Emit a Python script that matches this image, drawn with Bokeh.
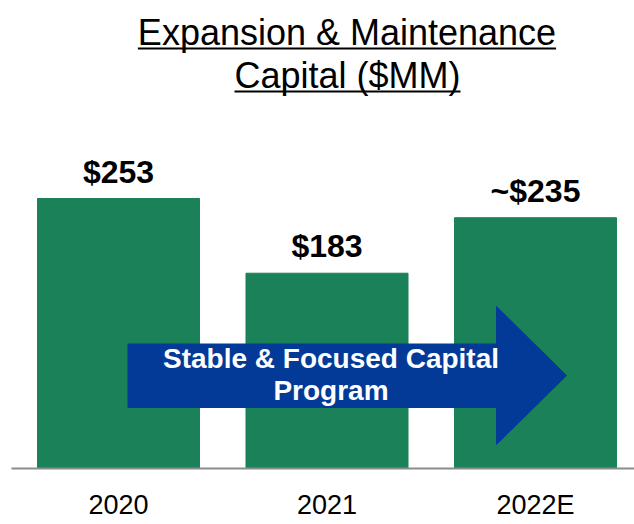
from bokeh.plotting import figure
from bokeh.models import Range1d, FixedTicker, Label, ColumnDataSource
from bokeh.core.properties import value
from bokeh.embed import file_html
from bokeh.resources import INLINE

# ---- data ----
categories = ["2020", "2021", "2022E"]
capital = [253, 183, 235]
estimate = [False, False, True]
title_lines = ["Expansion & Maintenance", "Capital ($MM)"]
arrow_lines = ["Stable & Focused Capital", "Program"]

value_labels = [("~" if e else "") + "$" + str(v) for v, e in zip(capital, estimate)]
xs = list(range(len(categories)))

# ---- layout constants (pixels) ----
W, H = 634, 524
FL, FB = 11, 468          # frame left, frame bottom
UNIT_X = 208.5            # px per category
X0 = 118                  # x of first category centre
PX_PER_Y = 270 / 253.0
BASE_CORR = 0.37          # svg alphabetic-baseline correction (em)

def dx(px):
    return (px - X0) / UNIT_X

def dy(py):
    return (FB - py) / PX_PER_Y

GREEN = "#1B8159"
BLUE = "#033A97"
FONT = "Liberation Sans"

p = figure(width=W, height=H,
           x_range=Range1d(dx(FL), dx(W)), y_range=Range1d(0, dy(0)),
           output_backend="svg", toolbar_location=None,
           y_axis_location=None,
           min_border_left=FL, min_border_right=0, min_border_top=0,
           min_border_bottom=H - FB)
p.outline_line_color = None
p.xgrid.grid_line_color = None
p.ygrid.grid_line_color = None
p.background_fill_color = "white"
p.border_fill_color = "white"

src = ColumnDataSource(dict(x=xs, top=capital, lab=value_labels))
p.vbar(x="x", top="top", bottom=0, width=0.777, source=src,
       fill_color=GREEN, line_color=GREEN)

lab_size = 32
p.text(x="x", y="top", text="lab", source=src,
       y_offset=-15 - BASE_CORR * lab_size,
       text_align="center", text_baseline="alphabetic",
       text_font=value(FONT), text_font_size=f"{lab_size}px",
       text_font_style="bold", text_color="black")

# axis
ax = p.xaxis[0]
ax.ticker = FixedTicker(ticks=xs)
ax.major_label_overrides = {i: c for i, c in zip(xs, categories)}
ax.major_tick_line_color = None
ax.minor_tick_line_color = None
ax.major_tick_out = 0
ax.major_tick_in = 0
ax.axis_line_color = "#8C8C8C"
ax.axis_line_width = 2
ax.major_label_standoff = 21
ax.major_label_text_font = FONT
ax.major_label_text_font_size = "27px"
ax.major_label_text_color = "black"

# arrow
ax_pts = [dx(127.5), dx(496), dx(496), dx(566), dx(496), dx(496), dx(127.5)]
ay_pts = [dy(343.5), dy(343.5), dy(306), dy(375), dy(444), dy(407), dy(407)]
p.patch(ax_pts, ay_pts, fill_color=BLUE, line_color=BLUE)

arrow_size = 28
for txt, by in zip(arrow_lines, [368, 400]):
    p.add_layout(Label(x=dx(330.5), y=dy(by - BASE_CORR * arrow_size), text=txt,
                       text_align="center", text_baseline="alphabetic",
                       text_font=FONT, text_font_size=f"{arrow_size}px",
                       text_font_style="bold", text_color="white"))

# title with underline
title_size = 36
title_widths = [11.617 * title_size, 6.278 * title_size]
for txt, by, w, cx in zip(title_lines, [45, 88], title_widths, [346.5, 347]):
    p.add_layout(Label(x=dx(cx), y=dy(by - BASE_CORR * title_size), text=txt,
                       text_align="center", text_baseline="alphabetic",
                       text_font=FONT, text_font_size=f"{title_size}px",
                       text_color="black"))
    p.line([dx(cx - w / 2), dx(cx + w / 2)], [dy(by + 3), dy(by + 3)],
           line_color="black", line_width=2)

open("out.html", "w").write(file_html(p, INLINE))
